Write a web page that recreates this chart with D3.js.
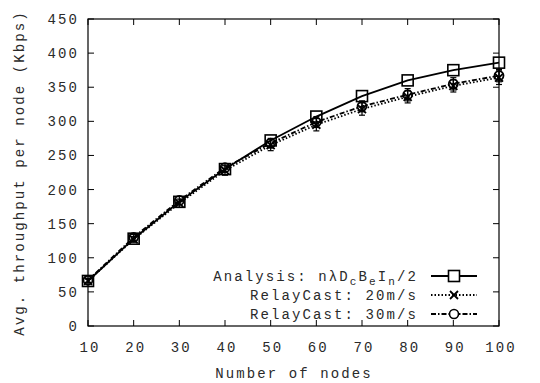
<!DOCTYPE html>
<html>
<head>
<meta charset="utf-8">
<script src="https://cdn.jsdelivr.net/npm/d3@7"></script>
<style>
  body { margin: 0; background: #fff; }
  svg text { font-family: "Courier New", Courier, "Nimbus Mono PS", FreeMono, "Liberation Mono", monospace; fill: #2a2a2a; }
</style>
</head>
<body>
<svg width="540" height="383"></svg>
<script>
var nodes = [10, 20, 30, 40, 50, 60, 70, 80, 90, 100];
var analysis = [66, 128, 182, 230, 272, 307, 337, 360, 375, 386];
var relay20 = [66, 127, 180, 228, 265, 295, 318, 336, 352, 364];
var relay20Err = [3, 4, 6, 7, 8, 9, 9, 9, 9, 10];
var relay30 = [67, 130, 184, 232, 268, 299, 322, 339, 355, 367];
var relay30Err = [3, 4, 6, 6, 7, 8, 8, 9, 9, 9];
var yTicks = [0, 50, 100, 150, 200, 250, 300, 350, 400, 450];

drawChart();

function drawChart() {
  var svg = d3.select('svg');
  var pl = 88, pr = 499, pt = 19, pb = 326;
  var ls = '2.1px';

  var x = d3.scaleLinear().domain([10, 100]).range([pl, pr]);
  var y = d3.scaleLinear().domain([0, 450]).range([pb, pt]);

  // frame
  svg.append('rect')
    .attr('x', pl).attr('y', pt)
    .attr('width', pr - pl).attr('height', pb - pt)
    .style('fill', 'none').style('stroke', '#000').style('stroke-width', 1.2);

  var tl = 6;
  // inward ticks, mirrored on top/right
  svg.selectAll('line.xt')
    .data(nodes)
    .enter()
    .append('line')
      .attr('x1', d => x(d)).attr('x2', d => x(d))
      .attr('y1', pb).attr('y2', pb - tl)
      .style('stroke', '#000');
  svg.selectAll('line.xtt')
    .data(nodes)
    .enter()
    .append('line')
      .attr('x1', d => x(d)).attr('x2', d => x(d))
      .attr('y1', pt).attr('y2', pt + tl)
      .style('stroke', '#000');
  svg.selectAll('line.yt')
    .data(yTicks)
    .enter()
    .append('line')
      .attr('x1', pl).attr('x2', pl + tl)
      .attr('y1', d => y(d)).attr('y2', d => y(d))
      .style('stroke', '#000');
  svg.selectAll('line.ytr')
    .data(yTicks)
    .enter()
    .append('line')
      .attr('x1', pr).attr('x2', pr - tl)
      .attr('y1', d => y(d)).attr('y2', d => y(d))
      .style('stroke', '#000');

  svg.selectAll('text.xl')
    .data(nodes)
    .enter()
    .append('text')
      .attr('x', d => x(d) + 2).attr('y', 352)
      .attr('text-anchor', 'middle')
      .style('font-size', '14px').style('letter-spacing', ls)
      .text(d => d);
  svg.selectAll('text.yl')
    .data(yTicks)
    .enter()
    .append('text')
      .attr('x', 79).attr('y', d => y(d) + 5)
      .attr('text-anchor', 'end')
      .style('font-size', '14px').style('letter-spacing', ls)
      .text(d => d);

  svg.append('text')
    .attr('x', 294).attr('y', 378)
    .attr('text-anchor', 'middle')
    .style('font-size', '14px').style('letter-spacing', ls)
    .text('Number of nodes');
  svg.append('text')
    .attr('transform', 'translate(24,173) rotate(-90)')
    .attr('text-anchor', 'middle')
    .style('font-size', '14px').style('letter-spacing', ls)
    .text('Avg. throughput per node (Kbps)');

  var line = d3.line().x((d, i) => x(nodes[i])).y(d => y(d));

  // error bars
  function errorBars(vals, errs) {
    var g = svg.append('g').style('stroke', '#000').style('stroke-width', 1.2);
    g.selectAll('line.eb')
      .data(vals)
      .enter()
      .append('line')
        .attr('x1', (d, i) => x(nodes[i])).attr('x2', (d, i) => x(nodes[i]))
        .attr('y1', (d, i) => y(d - errs[i])).attr('y2', (d, i) => y(d + errs[i]));
    g.selectAll('line.cap')
      .data(vals.concat(vals))
      .enter()
      .append('line')
        .attr('x1', (d, i) => x(nodes[i % 10]) - 3).attr('x2', (d, i) => x(nodes[i % 10]) + 3)
        .attr('y1', (d, i) => i < 10 ? y(d - errs[i % 10]) : y(d + errs[i % 10]))
        .attr('y2', (d, i) => i < 10 ? y(d - errs[i % 10]) : y(d + errs[i % 10]));
  }
  errorBars(relay20, relay20Err);
  errorBars(relay30, relay30Err);

  svg.append('path').datum(relay20)
    .attr('d', line)
    .style('fill', 'none').style('stroke', '#000').style('stroke-width', 1.8)
    .style('stroke-dasharray', '1.5,2');
  svg.append('path').datum(relay30)
    .attr('d', line)
    .style('fill', 'none').style('stroke', '#000').style('stroke-width', 1.8)
    .style('stroke-dasharray', '5,2,1.5,2');
  svg.append('path').datum(analysis)
    .attr('d', line)
    .style('fill', 'none').style('stroke', '#000').style('stroke-width', 1.8);

  function crossMark(g, cx, cy) {
    g.append('path')
      .attr('d', `M${cx - 4},${cy - 4}L${cx + 4},${cy + 4}M${cx - 4},${cy + 4}L${cx + 4},${cy - 4}`)
      .style('stroke', '#000').style('stroke-width', 1.8);
  }

  var g20 = svg.append('g');
  relay20.forEach((d, i) => crossMark(g20, x(nodes[i]), y(d)));

  svg.selectAll('circle.r30')
    .data(relay30)
    .enter()
    .append('circle')
      .attr('cx', (d, i) => x(nodes[i])).attr('cy', d => y(d))
      .attr('r', 4.5)
      .style('fill', 'none').style('stroke', '#000').style('stroke-width', 1.8);

  svg.selectAll('rect.an')
    .data(analysis)
    .enter()
    .append('rect')
      .attr('x', (d, i) => x(nodes[i]) - 5.5).attr('y', d => y(d) - 5.5)
      .attr('width', 11).attr('height', 11)
      .style('fill', 'none').style('stroke', '#000').style('stroke-width', 1.6);

  // legend
  var legY = [276, 295, 314];
  var lx1 = 431, lx2 = 477, lmx = 454;
  var t0 = svg.append('text')
    .attr('x', 418).attr('y', legY[0] + 5)
    .attr('text-anchor', 'end')
    .style('font-size', '14px').style('letter-spacing', ls);
  t0.append('tspan').text('Analysis: n\u03bbD');
  t0.append('tspan').attr('dy', 4).style('font-size', '11px').text('c');
  t0.append('tspan').attr('dy', -4).text('B');
  t0.append('tspan').attr('dy', 4).style('font-size', '11px').text('e');
  t0.append('tspan').attr('dy', -4).text('I');
  t0.append('tspan').attr('dy', 4).style('font-size', '11px').text('n');
  t0.append('tspan').attr('dy', -4).text('/2');

  svg.append('text')
    .attr('x', 418).attr('y', legY[1] + 5)
    .attr('text-anchor', 'end')
    .style('font-size', '14px').style('letter-spacing', ls)
    .text('RelayCast: 20m/s');
  svg.append('text')
    .attr('x', 418).attr('y', legY[2] + 5)
    .attr('text-anchor', 'end')
    .style('font-size', '14px').style('letter-spacing', ls)
    .text('RelayCast: 30m/s');

  svg.append('line').attr('x1', lx1).attr('x2', lx2).attr('y1', legY[0]).attr('y2', legY[0])
    .style('stroke', '#000').style('stroke-width', 1.8);
  svg.append('rect').attr('x', lmx - 5.5).attr('y', legY[0] - 5.5).attr('width', 11).attr('height', 11)
    .style('fill', '#fff').style('stroke', '#000').style('stroke-width', 1.6);
  svg.append('line').attr('x1', lx1).attr('x2', lx2).attr('y1', legY[1]).attr('y2', legY[1])
    .style('stroke', '#000').style('stroke-width', 1.8).style('stroke-dasharray', '1.5,2');
  crossMark(svg, lmx, legY[1]);
  svg.append('line').attr('x1', lx1).attr('x2', lx2).attr('y1', legY[2]).attr('y2', legY[2])
    .style('stroke', '#000').style('stroke-width', 1.8).style('stroke-dasharray', '5,2,1.5,2');
  svg.append('circle').attr('cx', lmx).attr('cy', legY[2]).attr('r', 4.5)
    .style('fill', '#fff').style('stroke', '#000').style('stroke-width', 1.6);
}
</script>
</body>
</html>
